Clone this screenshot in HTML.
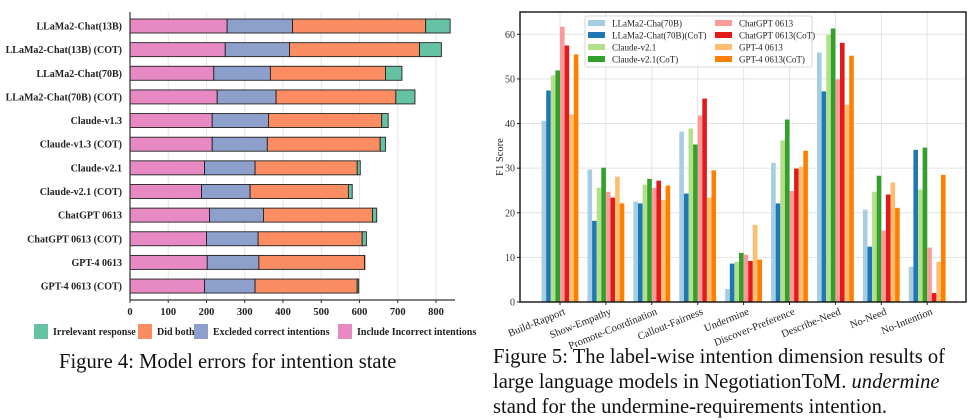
<!DOCTYPE html>
<html><head><meta charset="utf-8"><style>
body{margin:0;background:#fff;width:972px;height:414px;overflow:hidden;font-family:"Liberation Serif",serif}
svg{position:absolute;left:0;top:0}
.cap{position:absolute;font-family:"Liberation Serif",serif;font-size:20.6px;color:#111;line-height:25px;white-space:nowrap}
</style></head><body>
<svg id="s" width="972" height="414"></svg>
<div class="cap" style="left:59px;top:350px">Figure 4: Model errors for intention state</div>
<div class="cap" style="left:493px;top:345px">Figure 5: The label-wise intention dimension results of<br>large language models in NegotiationToM. <i>undermine</i><br>stand for the undermine-requirements intention.</div>
<script>
// ---- Left chart data ----
const models=["LLaMa2-Chat(13B)","LLaMa2-Chat(13B) (COT)","LLaMa2-Chat(70B)","LLaMa2-Chat(70B) (COT)","Claude-v1.3","Claude-v1.3 (COT)","Claude-v2.1","Claude-v2.1 (COT)","ChatGPT 0613","ChatGPT 0613  (COT)","GPT-4 0613","GPT-4 0613 (COT)"];
const includeIncorrect=[254,249,219,228,215,215,195,187,208,200,202,195];
const excludedCorrect=[171,168,148,154,147,144,132,127,141,135,135,132];
const didBoth=[348,340,301,313,296,295,267,257,285,272,276,267];
const irrelevant=[64,57,43,50,17,14,8,10,11,11,1,4];
const xTicks=[0,100,200,300,400,500,600,700,800];
// ---- Right chart data ----
const intents=["Build-Rapport","Show-Empathy","Promote-Coordination","Callout-Fairness","Undermine","Discover-Preference","Describe-Need","No-Need","No-Intention"];
const seriesNames=["LLaMa2-Cha(70B)","LLaMa2-Chat(70B)(CoT)","Claude-v2.1","Claude-v2.1(CoT)","ChatGPT 0613","ChatGPT 0613(CoT)","GPT-4 0613","GPT-4 0613(CoT)"];
const llama70=[40.6,29.7,22.5,38.2,2.9,31.2,55.9,20.7,7.9];
const llama70cot=[47.4,18.2,22.1,24.3,8.6,22.1,47.2,12.4,34.1];
const claude21=[50.8,25.6,26.3,38.9,9.0,36.2,59.9,24.7,25.2];
const claude21cot=[51.9,30.1,27.6,35.3,11.0,40.9,61.3,28.3,34.6];
const chatgpt=[61.7,24.7,25.6,41.8,10.6,24.9,49.9,16.0,12.2];
const chatgptcot=[57.5,23.4,27.2,45.6,9.2,29.9,58.1,24.1,2.0];
const gpt4=[42.0,28.1,22.9,23.4,17.3,30.3,44.2,26.8,9.0];
const gpt4cot=[55.5,22.1,26.1,29.5,9.5,33.9,55.2,21.1,28.5];
const yTicks=[0,10,20,30,40,50,60];

const NS="http://www.w3.org/2000/svg";
const s=document.getElementById('s');
function mk(t,a,p){const e=document.createElementNS(NS,t);for(const k in a)e.setAttribute(k,a[k]);(p||s).appendChild(e);return e;}

// ===== Left chart =====
const L={x0:130,x1:436,v1:800,top:12,bottom:300};
const lx=v=>L.x0+v*(L.x1-L.x0)/L.v1;
const ly=i=>26+i*23.64;
const gl=mk('g',{});


xTicks.forEach(t=>{
 const ln=mk('line',{x1:lx(t),x2:lx(t),y1:L.top,y2:L.bottom,stroke:'#e6e6e6','stroke-width':1},gl);
 
 
 const tx=mk('text',{x:lx(t),y:L.bottom+15,'text-anchor':'middle','font-size':10.5,'font-weight':'bold',fill:'#222'},gl);
 tx.textContent=t;
 
 
 mk('line',{x1:lx(t),x2:lx(t),y1:L.bottom,y2:L.bottom+3,stroke:'#333'},gl);
});
const segCols=['#e78ac3','#8da0cb','#fc8d62','#66c2a5'];
const segNames=['include-incorrect','excluded-correct','did-both','irrelevant'];
models.forEach((m,i)=>{
 const vals=[includeIncorrect[i],excludedCorrect[i],didBoth[i],irrelevant[i]];
 let acc=0;
 vals.forEach((v,k)=>{
  const r=mk('rect',{x:lx(acc),y:ly(i)-7,width:lx(acc+v)-lx(acc),height:14,fill:segCols[k],stroke:'#222','stroke-width':0.9},gl);
  
  
  acc+=v;
 });
 const t=mk('text',{x:122,y:ly(i)+3.5,'text-anchor':'end','font-size':10,'font-weight':'bold',fill:'#222'},gl);
 t.textContent=m;
 
 
});
mk('line',{x1:L.x0,x2:L.x0,y1:L.top,y2:L.bottom,stroke:'#333','stroke-width':1.2},gl);
mk('line',{x1:L.x0,x2:455,y1:L.bottom,y2:L.bottom,stroke:'#333','stroke-width':1.2},gl);
const legL=[['Irrelevant response',34,'#66c2a5'],['Did both',138,'#fc8d62'],['Excleded correct intentions',194,'#8da0cb'],['Include Incorrect intentions',338,'#e78ac3']];
legL.forEach(([n,x,c])=>{
 const r=mk('rect',{x:x,y:324,width:14,height:15,fill:c},gl);
 
 
 const t=mk('text',{x:x+19,y:335,'font-size':10,'font-weight':'bold',fill:'#222'},gl);
 t.textContent=n;
 
 
});

// ===== Right chart =====
const R={x0:520,x1:966,top:12,bottom:302,ymax:65};
const ry=v=>R.bottom-v*(R.bottom-R.top)/R.ymax;
const gx=i=>560+i*45.9;
const gr=mk('g',{});


yTicks.forEach(t=>{
 const ln=mk('line',{x1:R.x0,x2:R.x1,y1:ry(t),y2:ry(t),stroke:'#e3e3e3','stroke-width':1},gr);
 
 
 mk('line',{x1:R.x0-3,x2:R.x0,y1:ry(t),y2:ry(t),stroke:'#222'},gr);
 const tx=mk('text',{x:R.x0-5,y:ry(t)+3.5,'text-anchor':'end','font-size':10,fill:'#333'},gr);
 tx.textContent=t;
 
 
});
intents.forEach((n,i)=>{
 const ln=mk('line',{x1:gx(i),x2:gx(i),y1:R.top,y2:R.bottom,stroke:'#e3e3e3','stroke-width':1},gr);
 
 
});
const series=[llama70,llama70cot,claude21,claude21cot,chatgpt,chatgptcot,gpt4,gpt4cot];
const cols=['#a6cee3','#1f78b4','#b2df8a','#33a02c','#fb9a99','#e31a1c','#fdbf6f','#ff7f00'];
const bw=4.6;
series.forEach((arr,k)=>{
 arr.forEach((v,i)=>{
  const r=mk('rect',{x:gx(i)-4*bw+k*bw,y:ry(v),width:bw,height:ry(0)-ry(v),fill:cols[k]},gr);
  
  
 });
});
intents.forEach((n,i)=>{
 mk('line',{x1:gx(i),x2:gx(i),y1:R.bottom,y2:R.bottom+3,stroke:'#222'},gr);
 const t=mk('text',{x:gx(i)+6,y:R.bottom+12,'text-anchor':'end','font-size':10.5,fill:'#222',transform:`rotate(-22 ${gx(i)+6} ${R.bottom+12})`},gr);
 t.textContent=n;
 
 
});
const fr=mk('rect',{x:R.x0,y:R.top,width:R.x1-R.x0,height:R.bottom-R.top,fill:'none',stroke:'#111','stroke-width':1.4},gr);


const yl=mk('text',{x:503,y:157,'text-anchor':'middle','font-size':10.5,fill:'#222',transform:'rotate(-90 503 157)'},gr);
yl.textContent='F1 Score';


const lg=mk('g',{},gr);


mk('rect',{x:585,y:16,width:227,height:51,fill:'#fff','fill-opacity':0.85,stroke:'#ccc','stroke-width':0.8,rx:2},lg);
seriesNames.forEach((n,k)=>{
 const col=k<4?0:1;
 const row=k%4;
 const x=col?715:588,y=23+row*12;
 const r=mk('rect',{x:x,y:y-3,width:17,height:6,fill:cols[k]},lg);
 
 
 const t=mk('text',{x:x+24,y:y+3.5,'font-size':9,fill:'#222'},lg);
 t.textContent=n;
 
 
});
</script>
</body></html>
